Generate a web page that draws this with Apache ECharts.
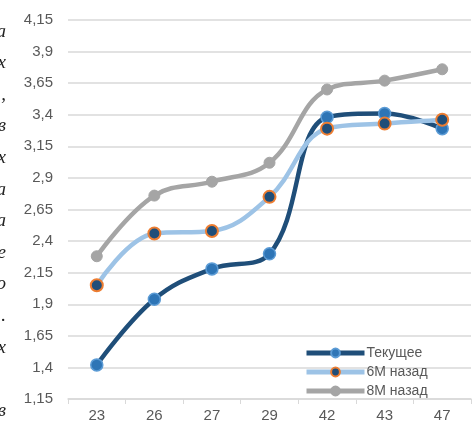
<!DOCTYPE html>
<html>
<head>
<meta charset="utf-8">
<script src="https://cdn.jsdelivr.net/npm/echarts@6/dist/echarts.min.js"></script>
<style>
  html, body { margin: 0; padding: 0; background: #fff; }
  #chart { width: 475px; height: 425px; }
</style>
</head>
<body>
<div id="chart"></div>
<script>
// Categories along the x axis
const categories = ['23', '26', '27', '29', '42', '43', '47'];

// Series values
const current = [1.42, 1.94, 2.18, 2.30, 3.38, 3.41, 3.29];
const sixMonthsAgo = [2.05, 2.46, 2.48, 2.75, 3.29, 3.33, 3.36];
const eightMonthsAgo = [2.28, 2.76, 2.87, 3.02, 3.60, 3.67, 3.76];

// Series names
const seriesNames = ['Текущее', '6M назад', '8M назад'];

// Value axis range
const yMin = 1.15;
const yMax = 4.15;
const yStep = 0.25;

// Trailing glyphs of the neighbouring text column, clipped at the left edge
const edgeGlyphs = ['а', 'х', ',', 'в', 'х', 'а', 'а', 'е', 'о', '.', 'х', '', 'в'];

const fmt = v => {
  let s = (Math.round(v * 100) / 100).toFixed(2);
  s = s.replace(/0$/, '').replace(/\.$/, '');
  return s.replace('.', ',');
};

const chart = echarts.init(document.getElementById('chart'), null, { renderer: 'canvas' });

const lineBase = (name, data, lineColor, fill, border, borderW, size) => ({
  name,
  type: 'line',
  data,
  smooth: 0.4,
  symbol: 'circle',
  symbolSize: size,
  lineStyle: { color: lineColor, width: 4.5 },
  itemStyle: { color: fill, borderColor: border, borderWidth: borderW },
  emphasis: { disabled: true }
});

chart.setOption({
  animation: false,
  backgroundColor: '#ffffff',
  textStyle: { fontFamily: 'Liberation Sans, Arial, sans-serif' },
  grid: { left: 68, right: 4, top: 20, bottom: 26, containLabel: false },
  xAxis: {
    type: 'category',
    data: categories,
    boundaryGap: true,
    axisLine: { lineStyle: { color: '#d9d9d9', width: 1.5 } },
    axisTick: { show: true, length: 5, lineStyle: { color: '#d9d9d9', width: 1 } },
    axisLabel: { color: '#595959', fontSize: 15, margin: 9 },
    splitLine: { show: false }
  },
  yAxis: {
    type: 'value',
    min: yMin,
    max: yMax,
    interval: yStep,
    axisLine: { show: false },
    axisTick: { show: false },
    axisLabel: { color: '#595959', fontSize: 15, margin: 15, formatter: fmt },
    splitLine: { lineStyle: { color: '#d9d9d9', width: 1.5 } }
  },
  legend: {
    orient: 'vertical',
    left: 304,
    top: 346,
    padding: 0,
    itemGap: 5,
    itemWidth: 58,
    itemHeight: 11,
    lineStyle: { width: 5 },
    textStyle: { color: '#595959', fontSize: 14, padding: [0, 0, 0, -3] },
    data: seriesNames
  },
  graphic: edgeGlyphs.map((ch, i) => ({
    type: 'text',
    x: 6,
    y: 22 + i * 31.6,
    silent: true,
    style: {
      text: ch,
      fill: '#222',
      align: 'right',
      textAlign: 'right',
      font: 'italic 19px "Liberation Serif", serif'
    }
  })),
  series: [
    lineBase(seriesNames[0], current, '#1f4e79', '#2e75b6', '#5b9bd5', 1.5, 12),
    lineBase(seriesNames[1], sixMonthsAgo, '#9dc3e6', '#1f4e79', '#ed7d31', 2, 12),
    lineBase(seriesNames[2], eightMonthsAgo, '#a5a5a5', '#a5a5a5', '#a5a5a5', 1, 11)
  ]
});
</script>
</body>
</html>
